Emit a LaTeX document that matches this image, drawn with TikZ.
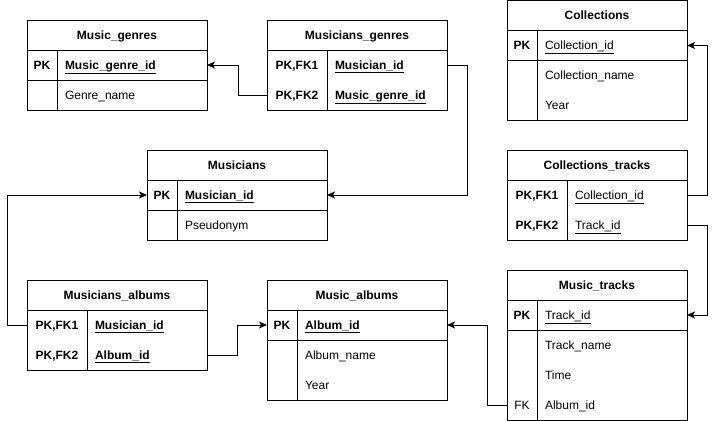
\documentclass[tikz,border=0pt]{standalone}
\usepackage{fontspec}
\setmainfont{Liberation Sans}
\usetikzlibrary{positioning,fit,arrows.meta}

\tikzset{
  tblhead/.style={anchor=north west, minimum width=180, minimum height=30, inner sep=0pt, outer sep=0pt, text height=10.3pt, text depth=1.7pt, font=\bfseries},
  keycell/.style={minimum width=30, minimum height=30, inner sep=0pt, outer sep=0pt, text height=10.3pt, text depth=1.7pt, font=\bfseries},
  keycellw/.style={keycell, minimum width=60},
  fieldcell/.style={minimum height=30, text width=134pt, inner xsep=8pt, inner ysep=0pt, outer sep=0pt, align=left, text height=10.3pt, text depth=1.7pt},
  fieldcellw/.style={fieldcell, text width=104pt},
  tblframe/.style={draw, line width=1pt, inner sep=0pt},
  tblrule/.style={line width=1pt},
  fklink/.style={-{Stealth[length=8pt, width=7pt, inset=2pt]}, line width=1pt}
}

\begin{document}
\fontsize{12}{14}\selectfont
\begin{tikzpicture}[x=1pt, y=-1pt]
  \useasboundingbox (0,0) rectangle (716,421);

  % Nodes
  % Music_genres
  \node[tblhead] (genres) at (27,20) {Music\_genres};
  \node[keycell, anchor=north west] (genres_k1) at (genres.south west) {PK};
  \node[fieldcell, right=0pt of genres_k1] (genres_f1) {\underline{\textbf{Music\_genre\_id}}};
  \node[keycell, below=0pt of genres_k1] (genres_k2) {};
  \node[fieldcell, right=0pt of genres_k2] (genres_f2) {Genre\_name};
  \node[tblframe, fit=(genres)(genres_f2)] (genres_box) {};
  \draw[tblrule] (genres.south west) -- (genres.south east);
  \draw[tblrule] (genres_k1.north east) -- (genres_k2.south east);
  \draw[tblrule] (genres_k1.south west) -- (genres_f1.south east);

  % Musicians_genres
  \node[tblhead] (musgenres) at (267,20) {Musicians\_genres};
  \node[keycellw, anchor=north west] (musgenres_k1) at (musgenres.south west) {PK,FK1};
  \node[fieldcellw, right=0pt of musgenres_k1] (musgenres_f1) {\underline{\textbf{Musician\_id}}};
  \node[keycellw, below=0pt of musgenres_k1] (musgenres_k2) {PK,FK2};
  \node[fieldcellw, right=0pt of musgenres_k2] (musgenres_f2) {\underline{\textbf{Music\_genre\_id}}};
  \node[tblframe, fit=(musgenres)(musgenres_f2)] (musgenres_box) {};
  \draw[tblrule] (musgenres.south west) -- (musgenres.south east);
  \draw[tblrule] (musgenres_k1.north east) -- (musgenres_k2.south east);

  % Musicians
  \node[tblhead] (musicians) at (147,150) {Musicians};
  \node[keycell, anchor=north west] (musicians_k1) at (musicians.south west) {PK};
  \node[fieldcell, right=0pt of musicians_k1] (musicians_f1) {\underline{\textbf{Musician\_id}}};
  \node[keycell, below=0pt of musicians_k1] (musicians_k2) {};
  \node[fieldcell, right=0pt of musicians_k2] (musicians_f2) {Pseudonym};
  \node[tblframe, fit=(musicians)(musicians_f2)] (musicians_box) {};
  \draw[tblrule] (musicians.south west) -- (musicians.south east);
  \draw[tblrule] (musicians_k1.north east) -- (musicians_k2.south east);
  \draw[tblrule] (musicians_k1.south west) -- (musicians_f1.south east);

  % Musicians_albums
  \node[tblhead] (musalbums) at (27,280) {Musicians\_albums};
  \node[keycellw, anchor=north west] (musalbums_k1) at (musalbums.south west) {PK,FK1};
  \node[fieldcellw, right=0pt of musalbums_k1] (musalbums_f1) {\underline{\textbf{Musician\_id}}};
  \node[keycellw, below=0pt of musalbums_k1] (musalbums_k2) {PK,FK2};
  \node[fieldcellw, right=0pt of musalbums_k2] (musalbums_f2) {\underline{\textbf{Album\_id}}};
  \node[tblframe, fit=(musalbums)(musalbums_f2)] (musalbums_box) {};
  \draw[tblrule] (musalbums.south west) -- (musalbums.south east);
  \draw[tblrule] (musalbums_k1.north east) -- (musalbums_k2.south east);

  % Music_albums
  \node[tblhead] (albums) at (267,280) {Music\_albums};
  \node[keycell, anchor=north west] (albums_k1) at (albums.south west) {PK};
  \node[fieldcell, right=0pt of albums_k1] (albums_f1) {\underline{\textbf{Album\_id}}};
  \node[keycell, below=0pt of albums_k1] (albums_k2) {};
  \node[fieldcell, right=0pt of albums_k2] (albums_f2) {Album\_name};
  \node[keycell, below=0pt of albums_k2] (albums_k3) {};
  \node[fieldcell, right=0pt of albums_k3] (albums_f3) {Year};
  \node[tblframe, fit=(albums)(albums_f3)] (albums_box) {};
  \draw[tblrule] (albums.south west) -- (albums.south east);
  \draw[tblrule] (albums_k1.north east) -- (albums_k3.south east);
  \draw[tblrule] (albums_k1.south west) -- (albums_f1.south east);

  % Collections
  \node[tblhead] (collections) at (507,0.5) {Collections};
  \node[keycell, anchor=north west] (collections_k1) at (collections.south west) {PK};
  \node[fieldcell, right=0pt of collections_k1] (collections_f1) {\underline{Collection\_id}};
  \node[keycell, below=0pt of collections_k1] (collections_k2) {};
  \node[fieldcell, right=0pt of collections_k2] (collections_f2) {Collection\_name};
  \node[keycell, below=0pt of collections_k2] (collections_k3) {};
  \node[fieldcell, right=0pt of collections_k3] (collections_f3) {Year};
  \node[tblframe, fit=(collections)(collections_f3)] (collections_box) {};
  \draw[tblrule] (collections.south west) -- (collections.south east);
  \draw[tblrule] (collections_k1.north east) -- (collections_k3.south east);
  \draw[tblrule] (collections_k1.south west) -- (collections_f1.south east);

  % Collections_tracks
  \node[tblhead] (coltracks) at (507,150) {Collections\_tracks};
  \node[keycellw, anchor=north west] (coltracks_k1) at (coltracks.south west) {PK,FK1};
  \node[fieldcellw, right=0pt of coltracks_k1] (coltracks_f1) {\underline{Collection\_id}};
  \node[keycellw, below=0pt of coltracks_k1] (coltracks_k2) {PK,FK2};
  \node[fieldcellw, right=0pt of coltracks_k2] (coltracks_f2) {\underline{Track\_id}};
  \node[tblframe, fit=(coltracks)(coltracks_f2)] (coltracks_box) {};
  \draw[tblrule] (coltracks.south west) -- (coltracks.south east);
  \draw[tblrule] (coltracks_k1.north east) -- (coltracks_k2.south east);

  % Music_tracks
  \node[tblhead] (tracks) at (507,270) {Music\_tracks};
  \node[keycell, anchor=north west] (tracks_k1) at (tracks.south west) {PK};
  \node[fieldcell, right=0pt of tracks_k1] (tracks_f1) {\underline{Track\_id}};
  \node[keycell, below=0pt of tracks_k1] (tracks_k2) {};
  \node[fieldcell, right=0pt of tracks_k2] (tracks_f2) {Track\_name};
  \node[keycell, below=0pt of tracks_k2] (tracks_k3) {};
  \node[fieldcell, right=0pt of tracks_k3] (tracks_f3) {Time};
  \node[keycell, below=0pt of tracks_k3, font=\mdseries] (tracks_k4) {FK};
  \node[fieldcell, right=0pt of tracks_k4] (tracks_f4) {Album\_id};
  \node[tblframe, fit=(tracks)(tracks_f4)] (tracks_box) {};
  \draw[tblrule] (tracks.south west) -- (tracks.south east);
  \draw[tblrule] (tracks_k1.north east) -- (tracks_k4.south east);
  \draw[tblrule] (tracks_k1.south west) -- (tracks_f1.south east);

  % Arrows
  \draw[fklink] (musgenres_k2.west) -- ++(-29,0) |- (genres_f1.east);
  \draw[fklink] (musgenres_f1.east) -- ++(20,0) |- (musicians_f1.east);
  \draw[fklink] (musalbums_k1.west) -- ++(-20,0) |- (musicians_k1.west);
  \draw[fklink] (musalbums_f2.east) -- ++(30,0) |- (albums_k1.west);
  \draw[fklink] (coltracks_f1.east) -- ++(20,0) |- (collections_f1.east);
  \draw[fklink] (coltracks_f2.east) -- ++(20,0) |- (tracks_f1.east);
  \draw[fklink] (tracks_k4.west) -- ++(-20,0) |- (albums_f1.east);
\end{tikzpicture}
\end{document}
